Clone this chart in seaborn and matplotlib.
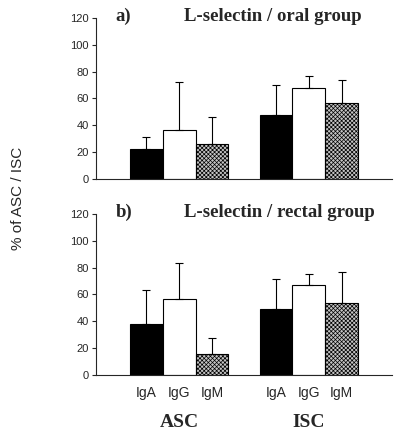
import pandas as pd
import numpy as np
import matplotlib
matplotlib.use("Agg")
import matplotlib.pyplot as plt
import seaborn as sns

groups = ["ASC", "ISC"]
isotypes = ["IgA", "IgG", "IgM"]

# panel a) oral group, mean and SD (upper error only)
oral_mean = {"ASC": [22, 36.5, 26], "ISC": [48, 67.5, 56.5]}
oral_sd = {"ASC": [9.5, 36, 20], "ISC": [22, 9, 17.5]}
# panel b) rectal group
rectal_mean = {"ASC": [38, 57, 16], "ISC": [49.5, 67, 54]}
rectal_sd = {"ASC": [25.5, 26.5, 11.5], "ISC": [22, 8.5, 22.5]}

yticks = [0, 20, 40, 60, 80, 100, 120]

sns.set_style("ticks")
plt.rcParams["font.family"] = ["Liberation Sans", "DejaVu Sans"]
plt.rcParams["hatch.color"] = "#555555"
plt.rcParams["hatch.linewidth"] = 0.5

fig = plt.figure(figsize=(4, 4.37), dpi=100)
ax_a = fig.add_axes([0.24, 0.5904, 0.74, 0.3684])
ax_b = fig.add_axes([0.24, 0.1419, 0.74, 0.3684])

styles = {"IgA": dict(fc="black", hatch=None),
          "IgG": dict(fc="white", hatch=None),
          "IgM": dict(fc="#c4c4c4", hatch="xxxxxxxx")}


def panel(ax, means, sds, tag, title, show_x):
    rows = []
    for g in groups:
        for i, iso in enumerate(isotypes):
            rows.append({"group": g, "iso": iso, "val": means[g][i], "sd": sds[g][i]})
    df = pd.DataFrame(rows)
    sns.barplot(data=df, x="group", y="val", hue="iso", order=groups,
                hue_order=isotypes, width=0.76, errorbar=None, ax=ax,
                legend=False, edgecolor="black", linewidth=0.8)
    for iso, cont in zip(isotypes, ax.containers):
        xs, ys, es = [], [], []
        for g, p in zip(groups, cont.patches):
            p.set_facecolor(styles[iso]["fc"])
            p.set_edgecolor("black")
            if styles[iso]["hatch"]:
                p.set_hatch(styles[iso]["hatch"])
            xs.append(p.get_x() + p.get_width() / 2)
            ys.append(p.get_height())
            es.append(df.loc[(df.group == g) & (df.iso == iso), "sd"].iloc[0])
        ax.errorbar(xs, ys, yerr=[np.zeros(len(es)), es], fmt="none",
                    ecolor="black", elinewidth=0.8, capsize=3, capthick=0.8,
                    zorder=1)
    ax.set_xlim(-0.64, 1.64)
    ax.set_ylim(0, 120)
    ax.set_yticks(yticks)
    ax.tick_params(axis="y", labelsize=8, length=3, width=0.8, pad=2)
    ax.set_xticks([])
    ax.set_xlabel("")
    ax.set_ylabel("")
    ax.spines["top"].set_visible(False)
    ax.spines["right"].set_visible(False)
    ax.spines["left"].set_linewidth(0.8)
    ax.spines["bottom"].set_linewidth(0.8)
    ax.text(-0.49, 121, tag, ha="left", va="center", fontsize=13.5,
            fontweight="bold", family="Liberation Serif")
    ax.text(0.04, 121, title, ha="left", va="center", fontsize=13.5,
            fontweight="bold", family="Liberation Serif")
    if show_x:
        for iso, cont in zip(isotypes, ax.containers):
            for p in cont.patches:
                ax.text(p.get_x() + p.get_width() / 2, -8, iso, ha="center",
                        va="top", fontsize=10)
        for i, g in enumerate(groups):
            ax.text(i, -29, g, ha="center", va="top", fontsize=14,
                    fontweight="bold", family="Liberation Serif")


panel(ax_a, oral_mean, oral_sd, "a)", "L-selectin / oral group", False)
panel(ax_b, rectal_mean, rectal_sd, "b)", "L-selectin / rectal group", True)

fig.text(0.045, 0.545, "% of ASC / ISC", rotation=90, ha="center",
         va="center", fontsize=11)

fig.savefig("out.png", dpi=100)
